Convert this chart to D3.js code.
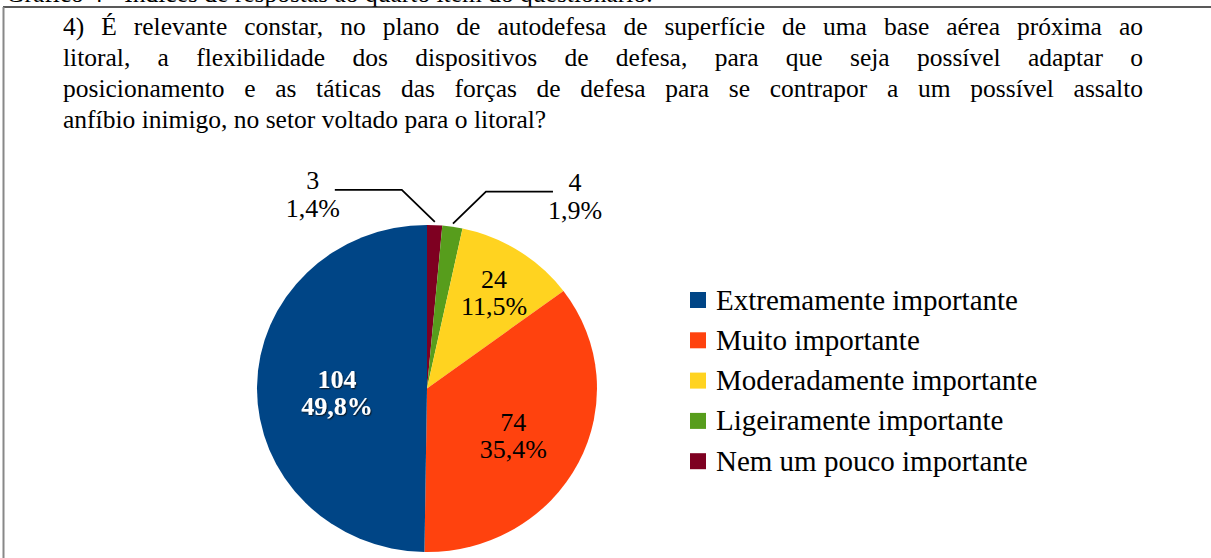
<!DOCTYPE html>
<html>
<head>
<meta charset="utf-8">
<script src="https://cdn.jsdelivr.net/npm/d3@7"></script>
<style>
  body { margin: 0; background: #fff; }
  svg { display: block; font-family: "Liberation Serif", "Times New Roman", serif; }
</style>
</head>
<body>
<div id="chart"></div>
<script>
// slices in drawing order (clockwise from 12 o'clock)
const categories = ['Nem um pouco importante', 'Ligeiramente importante', 'Moderadamente importante', 'Muito importante', 'Extremamente importante'];
const counts = [3, 4, 24, 74, 104];
const percents = ['1,4%', '1,9%', '11,5%', '35,4%', '49,8%'];
const colors = ['#7e0021', '#579d1c', '#ffd320', '#ff420e', '#004586'];

// legend reads top to bottom in the opposite order
const legendOrder = ['Extremamente importante', 'Muito importante', 'Moderadamente importante', 'Ligeiramente importante', 'Nem um pouco importante'];

const caption = 'Gráfico 4 - Índices de respostas ao quarto item do questionário.';
const questionLines = [
    '4) É relevante constar, no plano de autodefesa de superfície de uma base aérea próxima ao',
    'litoral, a flexibilidade dos dispositivos de defesa, para que seja possível adaptar o',
    'posicionamento e as táticas das forças de defesa para se contrapor a um possível assalto',
    'anfíbio inimigo, no setor voltado para o litoral?'
];

const width = 1211, height = 558;
const cx = 427, cy = 388.5, radius = 170, squash = 0.962;

const data = categories.map((c, i) => ({ label: c, value: counts[i], pct: percents[i] }));
const color = d3.scaleOrdinal().domain(categories).range(colors);

const svg = d3.select('#chart')
    .append('svg')
        .attr('width', width)
        .attr('height', height);

// soft shadow behind the white bold label
svg.append('defs')
    .append('filter')
        .attr('id', 'shadow')
        .attr('x', '-20%').attr('y', '-20%').attr('width', '140%').attr('height', '140%')
    .append('feDropShadow')
        .attr('dx', 1.2).attr('dy', 1.2).attr('stdDeviation', 0.4)
        .attr('flood-color', '#111').attr('flood-opacity', 0.75);

// clipped caption at the very top
svg.append('text')
    .attr('x', 6).attr('y', 2)
    .style('font-size', '25.5px')
    .text(caption);

// frame
svg.append('line')
    .attr('x1', 3).attr('x2', width).attr('y1', 7).attr('y2', 7)
    .attr('stroke', '#222').attr('stroke-width', 1.5);
svg.append('line')
    .attr('x1', 3.5).attr('x2', 3.5).attr('y1', 7).attr('y2', height)
    .attr('stroke', '#888').attr('stroke-width', 2);

// justified question text
const textLeft = 63, textRight = 1143;
questionLines.forEach((line, li) => {
    const y = 35 + li * 31;
    const words = line.split(' ');
    const g = svg.append('g').style('font-size', '25.5px');
    const nodes = words.map(w => g.append('text').attr('y', y).text(w));
    const widths = nodes.map(n => n.node().getComputedTextLength());
    const total = d3.sum(widths);
    const last = li === questionLines.length - 1;
    const gap = last ? 6.4 : (textRight - textLeft - total) / (words.length - 1);
    let x = textLeft;
    nodes.forEach((n, i) => {
        n.attr('x', x);
        x += widths[i] + gap;
    });
});

// pie
const pie = d3.pie().sort(null).value(d => d.value);
const arc = d3.arc().innerRadius(0).outerRadius(radius);
const arcs = pie(data);

svg.append('g')
    .attr('class', 'slices')
    .attr('transform', 'translate(' + cx + ',' + cy + ') scale(1,' + squash + ')')
    .selectAll('path.slice')
    .data(arcs)
    .enter()
    .append('path')
        .attr('class', 'slice')
        .attr('d', arc)
        .style('fill', d => color(d.data.label));

const polar = (r, a) => [cx + r * Math.sin(a), cy - r * Math.cos(a) * squash];
const mid = d => (d.startAngle + d.endAngle) / 2;

// labels inside the big slices
const insideR = { 'Moderadamente importante': 0.73, 'Muito importante': 0.57, 'Extremamente importante': 0.53 };
const insideStyle = {
    'Moderadamente importante': { fill: '#000', weight: 'normal' },
    'Muito importante': { fill: '#000', weight: 'normal' },
    'Extremamente importante': { fill: '#fff', weight: 'bold' }
};

arcs.filter(d => insideR[d.data.label]).forEach(d => {
    const [x, y] = polar(insideR[d.data.label] * radius, mid(d));
    const st = insideStyle[d.data.label];
    [String(d.data.value), d.data.pct].forEach((t, i) => {
        svg.append('text')
            .attr('x', x).attr('y', y + i * 27)
            .attr('text-anchor', 'middle')
            .attr('filter', st.fill === '#fff' ? 'url(#shadow)' : null)
            .style('font-size', '26px').style('font-weight', st.weight)
            .style('fill', st.fill)
            .text(t);
    });
});

// leader lines and outside labels for the two tiny slices
const outside = { 'Nem um pouco importante': -1, 'Ligeiramente importante': 1 };
arcs.filter(d => outside[d.data.label]).forEach(d => {
    const side = outside[d.data.label];
    const [x0, y0] = polar(1.02 * radius, mid(d));
    const x1 = x0 + side * 33, y1 = y0 - 32;
    const x2 = x1 + side * 67;
    svg.append('polyline')
        .attr('points', [[x0, y0], [x1, y1], [x2, y1]].map(p => p.join(',')).join(' '))
        .attr('fill', 'none').attr('stroke', '#000').attr('stroke-width', 1.8);
    const tx = x2 + side * 22;
    [String(d.data.value), d.data.pct].forEach((t, i) => {
        svg.append('text')
            .attr('x', tx).attr('y', y1 - 1 + i * 28)
            .attr('text-anchor', 'middle')
            .style('font-size', '26px')
            .text(t);
    });
});

// legend
const legend = svg.selectAll('.legend')
    .data(legendOrder)
    .enter()
    .append('g')
        .attr('class', 'legend')
        .attr('transform', (d, i) => 'translate(690,' + (300 + i * 40.3) + ')');

legend.append('rect')
    .attr('y', -8)
    .attr('width', 16)
    .attr('height', 16)
    .attr('fill', d => color(d));

legend.append('text')
    .attr('x', 26)
    .attr('y', 9.5)
    .style('font-size', '29px')
    .text(d => d);
</script>
</body>
</html>
